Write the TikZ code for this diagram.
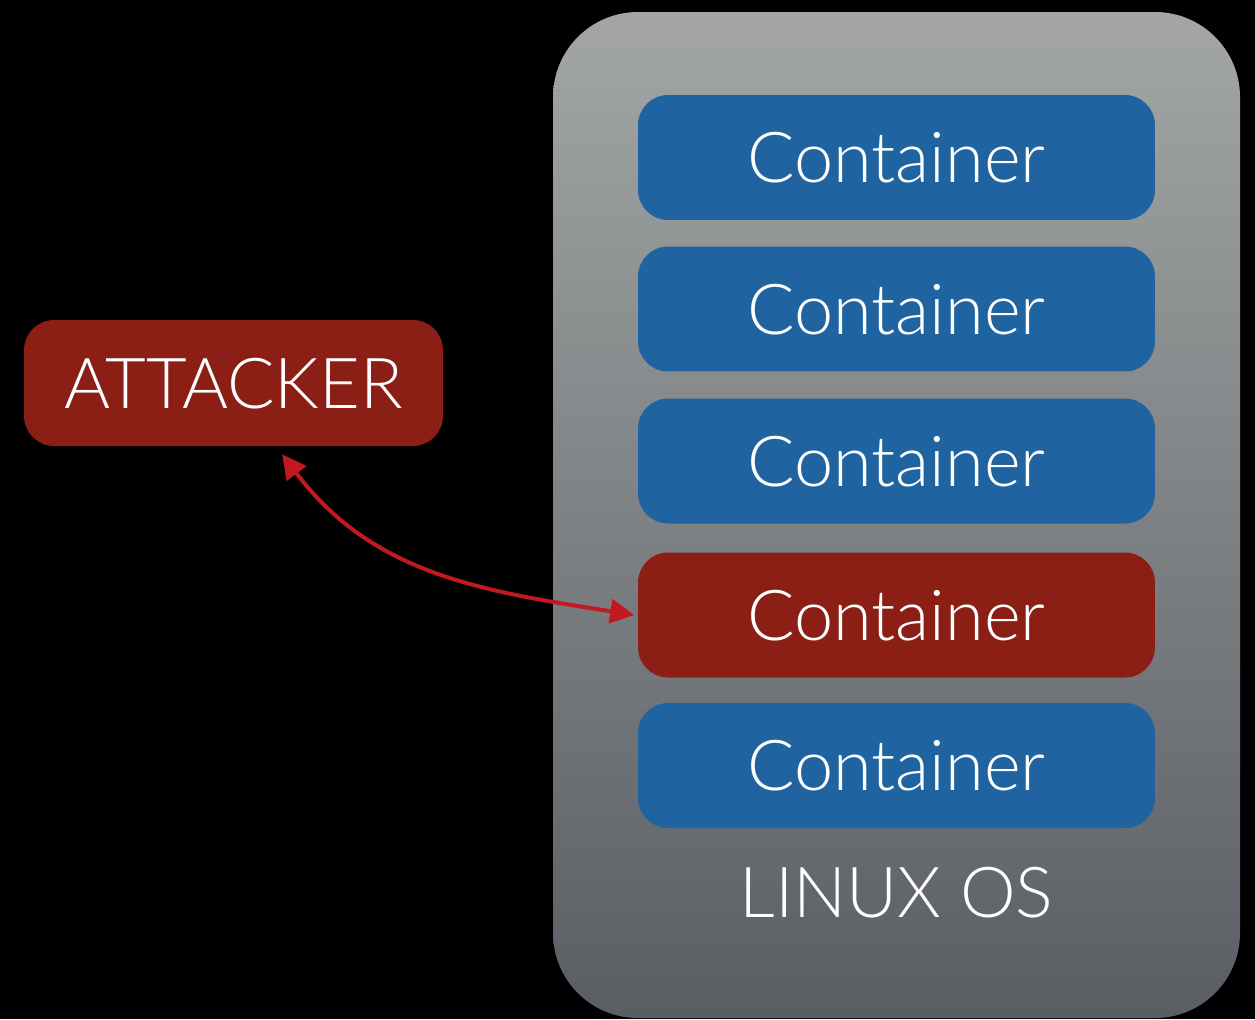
\documentclass[tikz,border=0pt]{standalone}
\usepackage{fontspec}
\setmainfont{Lato}[UprightFont={* Light}]
\usepackage{xcolor}
\usepackage{tikz}
\usetikzlibrary{
  arrows.meta,
  positioning,
  calc
}
\definecolor{ctblue}{RGB}{31, 99, 160}
\definecolor{ctred}{RGB}{139, 31, 21}
\definecolor{linkred}{RGB}{192, 26, 32}
\definecolor{ostop}{RGB}{163, 166, 165}
\definecolor{osbottom}{RGB}{90, 94, 100}

\begin{document}
\begin{tikzpicture}[
  x=0.02cm, y=-0.02cm,
  osbox/.style={
    rounded corners=1.7cm, top color=ostop, bottom color=osbottom,
    draw=none
  },
  ctbox/.style={
    rounded corners=0.6cm, fill=ctblue, text=white,
    minimum width=10.34cm, minimum height=2.5cm,
    font=\fontsize{40}{48}\selectfont, inner sep=0pt,
    text height=29pt, text depth=0pt
  },
  hotbox/.style={ctbox, fill=ctred},
  arrow/.style={
    {Triangle[length=0.48cm, width=0.48cm]}-{Triangle[length=0.48cm, width=0.48cm]},
    line width=0.08cm, draw=linkred
  }
]

% black page
\fill[black] (0,0) rectangle (1255,1019);
\useasboundingbox (0,0) rectangle (1255,1019);

% host
\fill[osbox] (553,12) rectangle (1240,1018);

\node[ctbox] (c1) at (896.5,157.5) {Container};
\node[ctbox] (c2) at (896.5,309) {Container};
\node[ctbox] (c3) at (896.5,461) {Container};
\node[hotbox] (c4) at (896.5,615) {Container};
\node[ctbox] (c5) at (896.5,765.5) {Container};

\node[text=white, font=\fontsize{40}{48}\selectfont,
  text height=29pt, text depth=0pt] (os) at (896.5,892) {LINUX OS};

\node[hotbox, minimum width=8.38cm, minimum height=2.52cm] (att) at (233.5,383) {ATTACKER};

\coordinate (attfoot) at ($(att.south west)!0.616!(att.south east)+(0,8)$);
\draw[arrow] (attfoot) to[out=-53, in=171] ([xshift=-2]c4.west);

\end{tikzpicture}
\end{document}
